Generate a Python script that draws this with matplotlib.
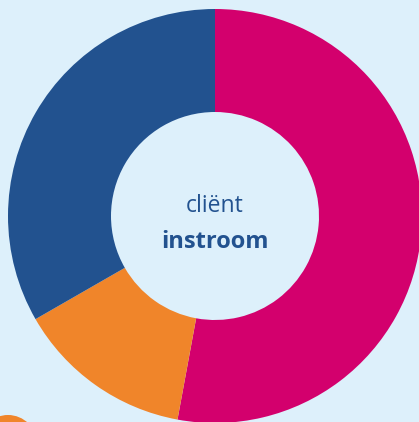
import matplotlib.pyplot as plt
from matplotlib.patches import Circle

# aandeel per categorie (procent)
labels = ["roze", "oranje", "blauw"]
values = [52.9, 13.8, 33.3]
colors = ["#d3006d", "#f0852a", "#22528f"]

bg = "#ddf0fb"
W, H = 419, 422

fig = plt.figure(figsize=(W / 100, H / 100), dpi=100)
fig.patch.set_facecolor(bg)
ax = fig.add_axes([0, 0, 1, 1])
ax.set_facecolor(bg)

cx, cy = 215, H - 216
ax.pie(values, colors=colors, startangle=90, counterclock=False,
       center=(cx, cy), radius=207, frame=True,
       wedgeprops=dict(width=103, linewidth=0))
ax.set_xlim(0, W)
ax.set_ylim(0, H)
ax.set_aspect("equal")
ax.axis("off")

ax.text(cx, cy + 10, "cliënt", ha="center", va="center",
        fontsize=16.5, color="#22528f", family=["Open Sans", "DejaVu Sans"])
ax.text(cx, cy - 26, "instroom", ha="center", va="center",
        fontsize=17, fontweight="bold", color="#22528f",
        family=["Open Sans", "DejaVu Sans"])

# legenda-bolletje (afgesneden onderaan)
ax.add_patch(Circle((8, H - 444), 29, color="#f0852a", lw=0, clip_on=True))

fig.savefig("out.png", dpi=100, facecolor=bg)
